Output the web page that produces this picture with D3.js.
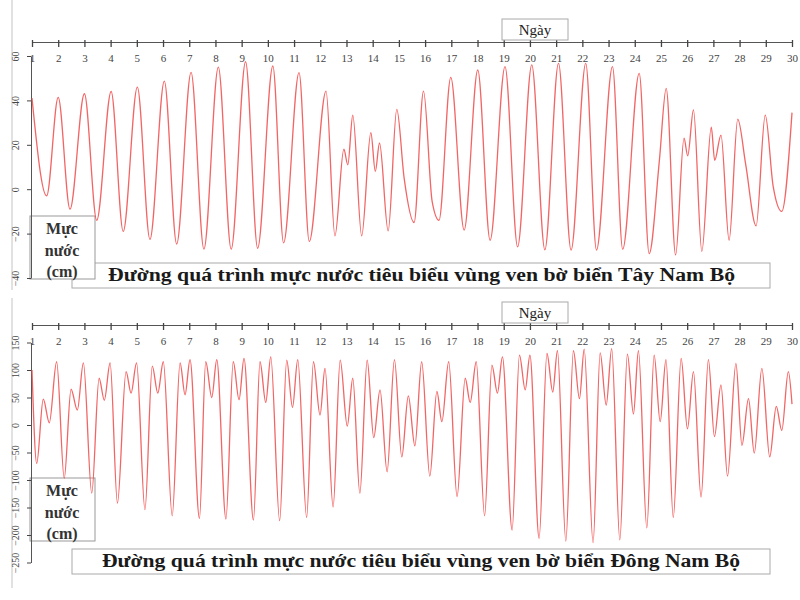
<!DOCTYPE html>
<html>
<head>
<meta charset="utf-8">
<script src="https://cdn.jsdelivr.net/npm/d3@7"></script>
<style>
  body { margin: 0; background: #fff; }
  svg { display: block; }
</style>
</head>
<body>
<div id="chart-area"></div>
<script>
// day labels on the top axis of both panels
const dayLabels = [1,2,3,4,5,6,7,8,9,10,11,12,13,14,15,16,17,18,19,20,21,22,23,24,25,26,27,28,29,30];

// Tây Nam Bộ: turning points (day, cm)
const tayDays = [1.0, 1.56, 2.0, 2.45, 3.0, 3.47, 4.02, 4.48, 5.02, 5.5, 6.05, 6.52, 7.07, 7.56, 8.11, 8.6, 9.15, 9.61,
  10.19, 10.6, 11.19, 11.58, 12.22, 12.56, 12.9, 13.05, 13.24, 13.58, 13.93, 14.1, 14.26, 14.59, 14.92, 15.2, 15.58,
  15.94, 16.27, 16.53, 16.98, 17.49, 18.01, 18.48, 19.05, 19.53, 20.07, 20.57, 21.09, 21.57, 22.13, 22.54, 23.15, 23.54,
  24.17, 24.55, 24.94, 25.2, 25.56, 25.88, 26.02, 26.24, 26.56, 26.92, 27.05, 27.29, 27.6, 27.93, 28.23, 28.63, 28.98,
  29.28, 29.61, 30.0];
const tayLevels = [41, -3, 41.4, -9, 43, -14, 44, -19, 46, -22.6, 48.7, -24.7, 52.6, -27, 55, -27, 57.4, -26.6,
  55.5, -24.2, 52.5, -23.5, 44.2, -21, 18, 11, 33.4, -21, 25.5, 8, 20.8, -18.8, 36, 5, -15,
  44.2, -5.6, -14, 50.4, -18.4, 53.7, -23, 55.2, -26, 56, -27.3, 56.7, -27.4, 56.7, -27.4, 55.2, -27,
  52.2, -29, 13, 45.4, -29.6, 23, 15, 35.7, -28, 27.9, 13, 24.4, -23, 31.6, 11.4, -16.5, 33.4,
  1.4, -10, 34.5];
const tayTicks = [60, 40, 20, 0, -20, -40];

// Đông Nam Bộ: turning points (day, cm)
const dongDays = [1.0, 1.18, 1.43, 1.66, 1.94, 2.23, 2.49, 2.73, 2.96, 3.28, 3.56, 3.76, 3.98, 4.26, 4.59, 4.78, 4.99,
  5.31, 5.59, 5.8, 6.01, 6.35, 6.65, 6.84, 7.03, 7.39, 7.63, 7.86, 8.05, 8.4, 8.68, 8.9, 9.09, 9.45, 9.7, 9.92,
  10.11, 10.45, 10.72, 10.94, 11.14, 11.48, 11.74, 11.99, 12.18, 12.49, 12.76, 13.03, 13.24, 13.51, 13.79, 14.04,
  14.28, 14.55, 14.83, 15.11, 15.36, 15.61, 15.87, 16.18, 16.45, 16.64, 16.9, 17.22, 17.53, 17.72, 17.95, 18.27,
  18.55, 18.76, 18.95, 19.32, 19.6, 19.82, 20.0, 20.35, 20.65, 20.87, 21.05, 21.37, 21.66, 21.89, 22.07, 22.41,
  22.68, 22.91, 23.12, 23.43, 23.72, 23.95, 24.14, 24.46, 24.74, 24.97, 25.19, 25.47, 25.77, 26.01, 26.24, 26.53,
  26.81, 27.04, 27.29, 27.54, 27.86, 28.09, 28.34, 28.56, 28.85, 29.15, 29.4, 29.61, 29.86, 30.0];
const dongLevels = [100, -70, 47, 4, 115, -97, 65, 27, 113, -124, 85, 45, 113, -142, 97, 58, 113,
  -154, 107, 58, 115, -165, 113, 55, 119, -170, 115, 50, 119, -171, 115, 46, 121, -173, 115, 41,
  124, -174, 118, 32, 119, -168, 115, 18, 103, -149, 118, -2, 85, -124, 118, -23,
  64, -85, 119, -58, 53, -38, 115, -93, 61, 6, 115, -130, 85, 41, 115, -165,
  109, 58, 124, -191, 127, 64, 127, -206, 130, 60, 135, -211, 135, 48, 138, -214,
  131, 36, 139, -209, 129, 20, 135, -187, 127, 6, 119, -168, 121, -7, 97, -131,
  119, -21, 73, -93, 112, -37, 48, -51, 103, -58, 34, -10, 97, 38];
const dongTicks = [150, 100, 50, 0, -50, -100, -150, -200, -250];

const width = 800;
const height = 600;
const serif = "'Liberation Serif', 'Times New Roman', serif";

let svg = d3.select("#chart-area")
  .append("svg")
  .attr("width", width)
  .attr("height", height);

let x = d3.scaleLinear()
  .domain([1, 30])
  .range([32, 792]);

function drawPanel(p) {
  let y = d3.scaleLinear()
    .domain(p.domain)
    .range(p.range);

  // left frame line
  svg.append("line")
    .attr("x1", 12).attr("x2", 12)
    .attr("y1", p.frame[0]).attr("y2", p.frame[1])
    .attr("stroke", "#c4c4c4");

  // title box (drawn first, the unit box sits over its corner)
  svg.append("rect")
    .attr("x", 72).attr("y", p.titleBox)
    .attr("width", 698).attr("height", 25)
    .attr("fill", "#fff").attr("stroke", "#aaa");
  svg.append("text")
    .attr("x", p.titleX).attr("y", p.titleBox + 18)
    .attr("textLength", p.titleW)
    .attr("lengthAdjust", "spacingAndGlyphs")
    .attr("font-family", serif)
    .attr("font-size", "18px")
    .attr("font-weight", "bold")
    .attr("fill", "#1a1a1a")
    .text(p.title);

  // unit box
  svg.append("rect")
    .attr("x", 30).attr("y", p.unitBox)
    .attr("width", 65).attr("height", 63)
    .attr("fill", "#fff").attr("stroke", "#999");
  ["Mực", "nước", "(cm)"].forEach((t, i) => {
    svg.append("text")
      .attr("x", 62).attr("y", p.unitBox + 18 + i * 21.5)
      .attr("text-anchor", "middle")
      .attr("font-family", serif)
      .attr("font-size", "16px")
      .attr("font-weight", "bold")
      .attr("fill", "#333")
      .text(t);
  });

  // day axis on top, ticks and labels inside
  let xAxis = d3.axisBottom(x).tickValues(dayLabels).tickSize(5).tickSizeOuter(0).tickPadding(7);
  let gx = svg.append("g")
    .attr("transform", `translate(0, ${p.axisY})`)
    .call(xAxis);
  gx.select(".domain").attr("stroke", "#555");
  gx.selectAll(".tick line").attr("stroke", "#444").attr("y1", -2).attr("stroke-width", 1.3);
  gx.selectAll(".tick text")
    .attr("font-family", serif)
    .attr("font-size", "11px")
    .attr("fill", "#444");

  // level axis, rotated labels
  let yAxis = d3.axisLeft(y).tickValues(p.ticks).tickSize(4).tickSizeOuter(0);
  let gy = svg.append("g")
    .attr("transform", "translate(31, 0)")
    .call(yAxis);
  gy.select(".domain").attr("stroke", "#555");
  gy.selectAll(".tick line").attr("stroke", "#444");
  gy.selectAll(".tick text")
    .attr("x", 0)
    .attr("dy", "0.35em")
    .attr("text-anchor", "middle")
    .attr("transform", "translate(-16, 0) rotate(-90)")
    .attr("font-family", serif)
    .attr("font-size", "10px")
    .attr("fill", "#444");

  // water level line
  let data = p.days.map((d, i) => ({day: d, level: p.levels[i]}));
  let line = d3.line()
    .x(d => x(d.day))
    .y(d => y(d.level))
    .curve(d3.curveMonotoneX);
  svg.append("path")
    .datum(data)
    .attr("d", line)
    .attr("fill", "none")
    .attr("stroke", "#f04a4a")
    .attr("stroke-width", 1.3)
    .attr("stroke-opacity", 0.85);

  // "Ngày" box
  svg.append("rect")
    .attr("x", 502).attr("y", p.dayBox)
    .attr("width", 66).attr("height", 21)
    .attr("fill", "#fff").attr("stroke", "#aaa");
  svg.append("text")
    .attr("x", 535).attr("y", p.dayBox + 16)
    .attr("text-anchor", "middle")
    .attr("font-family", serif)
    .attr("font-size", "15px")
    .attr("fill", "#222")
    .text("Ngày");
}

drawPanel({
  days: tayDays, levels: tayLevels, ticks: tayTicks,
  domain: [-40, 60], range: [278, 56], axisY: 42, frame: [0, 290],
  dayBox: 19, unitBox: 216, titleBox: 263, titleX: 108, titleW: 627,
  title: "Đường quá trình mực nước tiêu biểu vùng ven bờ biển Tây Nam Bộ"
});

drawPanel({
  days: dongDays, levels: dongLevels, ticks: dongTicks,
  domain: [-250, 150], range: [562.5, 342.5], axisY: 325, frame: [298, 588],
  dayBox: 302, unitBox: 478, titleBox: 549, titleX: 102, titleW: 638,
  title: "Đường quá trình mực nước tiêu biểu vùng ven bờ biển Đông Nam Bộ"
});
</script>
</body>
</html>
